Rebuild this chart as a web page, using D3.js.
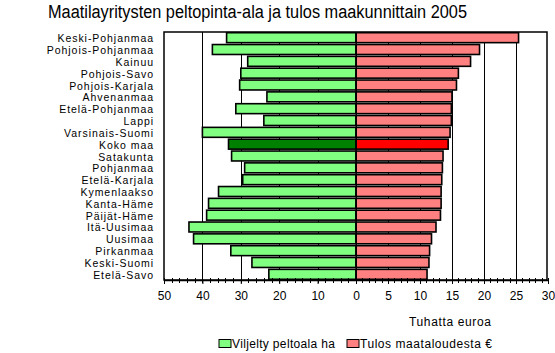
<!DOCTYPE html>
<html><head><meta charset="utf-8">
<script src="https://cdn.jsdelivr.net/npm/d3@7"></script>
<style>
html,body{margin:0;padding:0;background:#fff;}
svg{display:block;font-family:"Liberation Sans",Arial,sans-serif;}
</style></head>
<body>
<svg id="c" width="555" height="353"></svg>
<script>
const title = "Maatilayritysten peltopinta-ala ja tulos maakunnittain 2005";
const regions = ["Keski-Pohjanmaa","Pohjois-Pohjanmaa","Kainuu","Pohjois-Savo","Pohjois-Karjala","Ahvenanmaa","Etelä-Pohjanmaa","Lappi","Varsinais-Suomi","Koko maa","Satakunta","Pohjanmaa","Etelä-Karjala","Kymenlaakso","Kanta-Häme","Päijät-Häme","Itä-Uusimaa","Uusimaa","Pirkanmaa","Keski-Suomi","Etelä-Savo"];
const fieldArea = [33.7,37.4,28.2,30.0,30.3,23.2,31.3,24.0,40.0,33.2,32.4,29.0,29.5,35.8,38.4,38.9,43.5,42.3,32.6,27.1,22.7];
const income = [25.4,19.3,17.9,16.0,15.7,15.0,14.9,14.9,14.7,14.4,13.6,13.5,13.4,13.3,13.3,13.2,12.5,11.8,11.5,11.4,11.1];
const leftTicks = [50,40,30,20,10,0];
const rightTicks = [5,10,15,20,25,30];
const axisTitle = "Tuhatta euroa";
const legendLabels = ["Viljelty peltoala ha","Tulos maataloudesta €"];
const totalLabel = "Koko maa";

const svg = d3.select("#c");
const L = 164, Z = 356, R = 548, T = 32, B = 280;
const xL = d3.scaleLinear().domain([50,0]).range([L,Z]);
const xR = d3.scaleLinear().domain([0,30]).range([Z,R]);
const y = d3.scaleBand().domain(regions).range([T,B]).paddingInner(0.16).paddingOuter(0.06);

// title
svg.append("text").attr("x",48).attr("y",18).attr("font-size",18).attr("fill","#000")
  .attr("textLength",419).attr("lengthAdjust","spacingAndGlyphs").text(title);

// frame
svg.append("rect").attr("x",L).attr("y",T).attr("width",R-1-L).attr("height",B-T).attr("fill","none").attr("stroke","#000").attr("stroke-width",1.5);

// gridlines
const g = svg.append("g");
g.selectAll("line.gl").data(leftTicks.filter(d=>d!==50 && d!==0)).enter().append("line")
 .attr("x1",d=>Math.round(xL(d))+0.5).attr("x2",d=>Math.round(xL(d))+0.5).attr("y1",T).attr("y2",B+3).attr("stroke","#000");
g.selectAll("line.gr").data(rightTicks.filter(d=>d!==30)).enter().append("line")
 .attr("x1",d=>Math.round(xR(d))+0.5).attr("x2",d=>Math.round(xR(d))+0.5).attr("y1",T).attr("y2",B+3).attr("stroke","#000");

// bars
const rows = regions.map((r,i)=>({r, a:fieldArea[i], v:income[i]}));
svg.selectAll("rect.ga").data(rows).enter().append("rect")
 .attr("x",d=>xL(d.a)).attr("y",d=>y(d.r)).attr("width",d=>Z-xL(d.a)).attr("height",y.bandwidth())
 .attr("fill",d=>d.r===totalLabel?"#008000":"#80FF80").attr("stroke","#000").attr("stroke-width",1.6);
svg.selectAll("rect.rv").data(rows).enter().append("rect")
 .attr("x",Z).attr("y",d=>y(d.r)).attr("width",d=>xR(d.v)-Z).attr("height",y.bandwidth())
 .attr("fill",d=>d.r===totalLabel?"#FF0000":"#FF8080").attr("stroke","#000").attr("stroke-width",1.6);

// zero line
svg.append("line").attr("x1",Z+0.5).attr("x2",Z+0.5).attr("y1",T).attr("y2",B+3).attr("stroke","#000").attr("stroke-width",1);

// category labels
svg.selectAll("text.cat").data(regions).enter().append("text")
 .attr("x",154).attr("y",d=>y(d)+y.bandwidth()/2+4.5).attr("text-anchor","end")
 .attr("font-size",10.5).attr("letter-spacing",0.95).text(d=>d);

// axes
const axL = d3.axisBottom(xL).tickValues(leftTicks).tickSize(4).tickPadding(7).tickFormat(d3.format("d"));
const axR = d3.axisBottom(xR).tickValues(rightTicks).tickSize(4).tickPadding(7).tickFormat(d3.format("d"));
const gL = svg.append("g").attr("transform",`translate(0,${B})`).call(axL);
const gR = svg.append("g").attr("transform",`translate(0,${B})`).call(axR);
[gL,gR].forEach(a=>{a.select(".domain").remove(); a.selectAll("text").attr("font-size",12).attr("font-family","Liberation Sans, Arial").attr("fill","#000"); a.selectAll("line").attr("stroke","#000");});
svg.append("line").attr("x1",L).attr("x2",R).attr("y1",B+0.5).attr("y2",B+0.5).attr("stroke","#000").attr("stroke-width",1.5);
// minor ticks
const minL = d3.range(0,51,2), minR = d3.range(0,31,1);
svg.selectAll("line.mL").data(minL).enter().append("line")
 .attr("x1",d=>Math.round(xL(d))+0.5).attr("x2",d=>Math.round(xL(d))+0.5).attr("y1",B-2).attr("y2",B+3).attr("stroke","#000");
svg.selectAll("line.mR").data(minR).enter().append("line")
 .attr("x1",d=>Math.round(xR(d))+0.5).attr("x2",d=>Math.round(xR(d))+0.5).attr("y1",B-2).attr("y2",B+3).attr("stroke","#000");

// axis title
svg.append("text").attr("x",409).attr("y",326).attr("font-size",12)
  .attr("textLength",82).attr("lengthAdjust","spacing").text(axisTitle);

// legend
const lg = svg.append("g");
[[219,"#80FF80",legendLabels[0],103],[347,"#FF8080",legendLabels[1],132]].forEach(([x,c,t,w])=>{
  lg.append("rect").attr("x",x).attr("y",339.5).attr("width",12).attr("height",8).attr("fill",c).attr("stroke","#000").attr("stroke-width",1);
  lg.append("text").attr("x",x+13).attr("y",348).attr("font-size",12)
    .attr("textLength",w).attr("lengthAdjust","spacing").text(t);
});
</script>
</body></html>
